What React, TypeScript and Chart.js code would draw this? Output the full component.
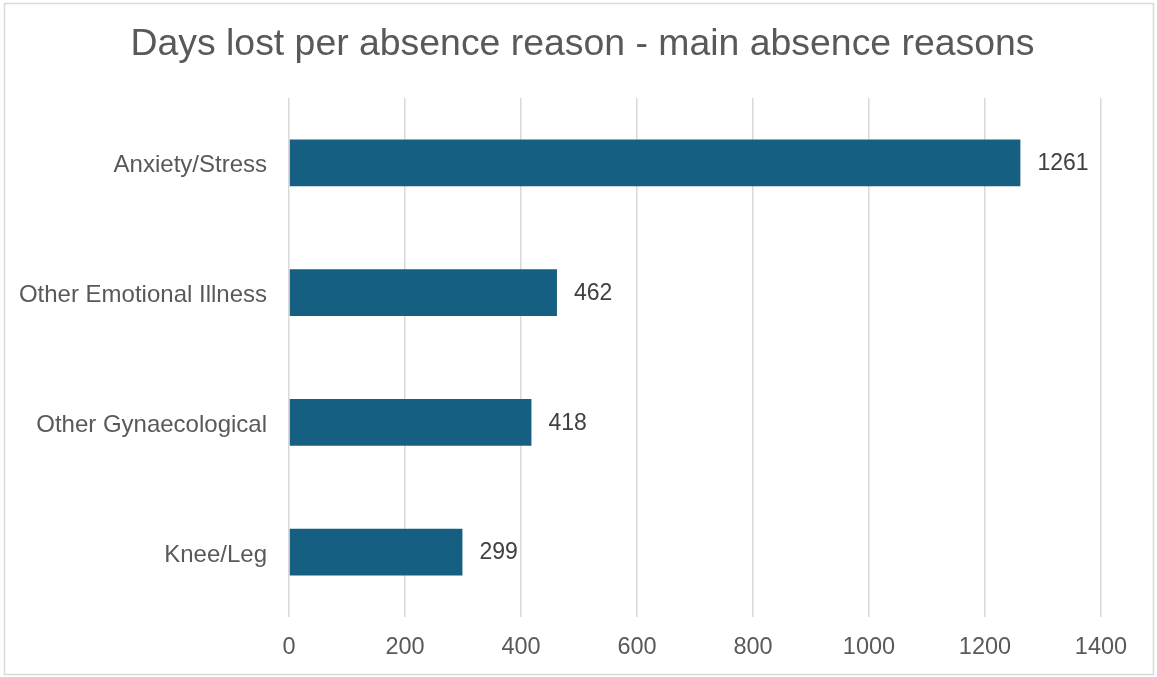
import React, { useEffect, useRef } from "react";
import { Chart, registerables } from "chart.js";

Chart.register(...registerables);

const titleText = "Days lost per absence reason - main absence reasons";
const categories = ["Anxiety/Stress", "Other Emotional Illness", "Other Gynaecological", "Knee/Leg"];
const daysLost = [1261, 462, 418, 299];
const xTickMin = 0;
const xTickMax = 1400;
const xTickStep = 200;

const FONT = "'Liberation Sans', Arial, sans-serif";

const borderPlugin = {
  id: "outerBorder",
  beforeDraw(chart: any) {
    const ctx = chart.ctx;
    ctx.save();
    ctx.fillStyle = "#ffffff";
    ctx.fillRect(0, 0, chart.width, chart.height);
    ctx.strokeStyle = "#d9d9d9";
    ctx.lineWidth = 1.5;
    ctx.strokeRect(4.5, 3.5, chart.width - 8, chart.height - 6);
    ctx.restore();
  },
};

const titleSpanPlugin = {
  id: "titleSpan",
  afterLayout(chart: any) {
    const tb = chart.titleBlock;
    if (tb) {
      tb.left = 8;
      tb.right = chart.width;
      tb.width = chart.width - 8;
    }
  },
};

const valueLabelPlugin = {
  id: "valueLabels",
  afterDatasetsDraw(chart: any) {
    const ctx = chart.ctx;
    const meta = chart.getDatasetMeta(0);
    const data = chart.data.datasets[0].data;
    ctx.save();
    ctx.fillStyle = "#404040";
    ctx.font = `23px ${FONT}`;
    ctx.textAlign = "left";
    ctx.textBaseline = "middle";
    meta.data.forEach((el: any, i: number) => {
      ctx.fillText(String(data[i]), el.x + 17, el.y + 1);
    });
    ctx.restore();
  },
};

export default function App() {
  const ref = useRef<HTMLCanvasElement | null>(null);

  useEffect(() => {
    if (!ref.current) return;
    const chart = new Chart(ref.current, {
      type: "bar",
      data: {
        labels: categories,
        datasets: [
          {
            data: daysLost,
            backgroundColor: "#156082",
            borderWidth: 0,
            barPercentage: 0.36,
            categoryPercentage: 1,
          },
        ],
      },
      options: {
        indexAxis: "y",
        animation: false,
        responsive: true,
        maintainAspectRatio: false,
        layout: { padding: { top: 0, left: 0, right: 56, bottom: 0 } },
        plugins: {
          legend: { display: false },
          tooltip: { enabled: false },
          title: {
            display: true,
            text: titleText,
            color: "#595959",
            font: { family: FONT, size: 37.4, weight: "normal", lineHeight: 1.2 },
            padding: { top: 22.5, bottom: 30.6 },
          },
        },
        scales: {
          x: {
            min: xTickMin,
            max: xTickMax,
            ticks: {
              stepSize: xTickStep,
              color: "#595959",
              font: { family: FONT, size: 23.5 },
              padding: 16,
              callback: (v: any) => String(v),
            },
            grid: { color: "#d9d9d9", lineWidth: 1.5, drawTicks: false },
            border: { display: false },
            afterFit(scale: any) {
              scale.height = 60;
            },
          },
          y: {
            ticks: {
              color: "#595959",
              font: { family: FONT, size: 24 },
              padding: 22,
              labelOffset: 3,
            },
            grid: { display: false, drawTicks: false },
            border: { display: false },
            afterFit(scale: any) {
              scale.width = 289;
            },
          },
        },
      },
      plugins: [borderPlugin, titleSpanPlugin, valueLabelPlugin],
    });
    return () => chart.destroy();
  }, []);

  return (
    <div style={{ position: "fixed", left: 0, top: 0, width: 1157, height: 677 }}>
      <canvas ref={ref} />
    </div>
  );
}
